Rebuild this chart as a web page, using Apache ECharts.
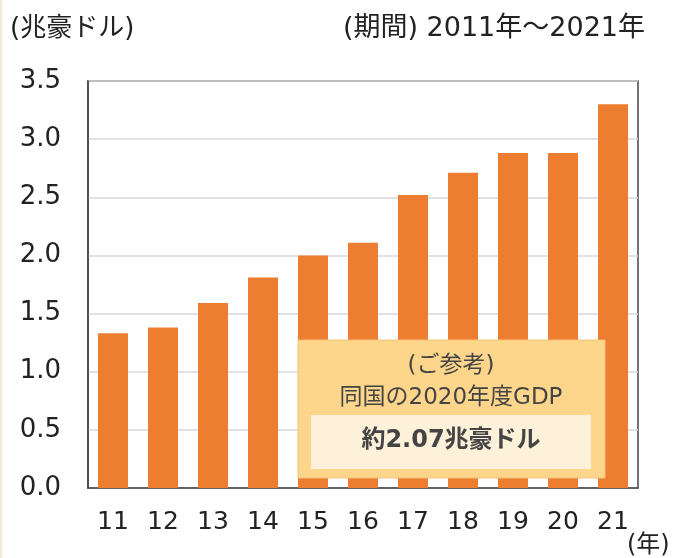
<!DOCTYPE html>
<html lang="ja">
<head>
    <meta charset="UTF-8">
    <title>豪州GDP</title>
    <style>
        html, body { margin: 0; padding: 0; background: #fff; }
        #main { width: 675px; height: 558px; }
    </style>
    <script src="https://cdn.jsdelivr.net/npm/echarts@6/dist/echarts.min.js"></script>
</head>
<body>
    <div id="main"></div>
<script>
    // 年（カテゴリ）
    var years = ['11', '12', '13', '14', '15', '16', '17', '18', '19', '20', '21'];
    // GDP（兆豪ドル）
    var gdp = [1.33, 1.38, 1.59, 1.81, 2.00, 2.11, 2.52, 2.71, 2.88, 2.88, 3.30];
    // y軸目盛
    var yMin = 0, yMax = 3.5, yStep = 0.5;

    var font = '"DejaVu Sans", "Noto Sans CJK JP", sans-serif';
    var mCharts = echarts.init(document.getElementById('main'));

    var option = {
        animation: false,
        backgroundColor: '#fff',
        grid: {
            left: 88, right: 37, top: 81, bottom: 70,
            show: true,
            borderColor: '#444',
            borderWidth: 1.5,
            backgroundColor: 'transparent'
        },
        xAxis: {
            type: 'category',
            data: years,
            axisLine: { show: true, lineStyle: { color: '#444', width: 1.5 } },
            axisTick: { show: false },
            axisLabel: { color: '#222', fontSize: 25, fontFamily: font, margin: 22 }
        },
        yAxis: {
            type: 'value',
            min: yMin, max: yMax, interval: yStep,
            axisLine: { show: true, lineStyle: { color: '#444', width: 1.5 } },
            axisTick: { show: false },
            splitLine: { lineStyle: { color: '#d9d9d9', width: 1.5 } },
            axisLabel: {
                color: '#222', fontSize: 26, fontFamily: font, margin: 27,
                formatter: function (v) { return v.toFixed(1); }
            }
        },
        series: [{
            type: 'bar',
            data: gdp,
            barWidth: '60%',
            itemStyle: { color: '#ed7d31' }
        }],
        graphic: [
            { type: 'rect', z: 100, left: 0, top: 0, shape: { width: 2, height: 558 }, style: { fill: '#f1e8d6' } },
            { type: 'text', z: 100, x: 10, y: 29, style: { text: '(兆豪ドル)', font: '26px ' + font, fill: '#222', verticalAlign: 'middle' } },
            { type: 'text', z: 100, x: 645, y: 29, style: { text: '(期間) 2011年～2021年', font: '27px ' + font, fill: '#222', align: 'right', verticalAlign: 'middle' } },
            { type: 'text', z: 100, x: 627, y: 546, style: { text: '(年)', font: '24px ' + font, fill: '#222', verticalAlign: 'middle' } },
            {
                type: 'rect', z: 100,
                shape: { x: 298, y: 340, width: 307, height: 138 },
                style: { fill: '#fdd68b', stroke: '#f6c27a', lineWidth: 1 }
            },
            {
                type: 'rect', z: 101,
                shape: { x: 311, y: 415, width: 280, height: 54 },
                style: { fill: '#fef1d9' }
            },
            { type: 'text', z: 102, x: 451, y: 366, style: { text: '(ご参考)', font: '23px ' + font, fill: '#444', align: 'center', verticalAlign: 'middle' } },
            { type: 'text', z: 102, x: 451, y: 398, style: { text: '同国の2020年度GDP', font: '23px ' + font, fill: '#444', align: 'center', verticalAlign: 'middle' } },
            { type: 'text', z: 102, x: 451, y: 441, style: { text: '約2.07兆豪ドル', font: 'bold 24px ' + font, fill: '#444', align: 'center', verticalAlign: 'middle' } }
        ]
    };
    mCharts.setOption(option);
</script>
</body>
</html>
